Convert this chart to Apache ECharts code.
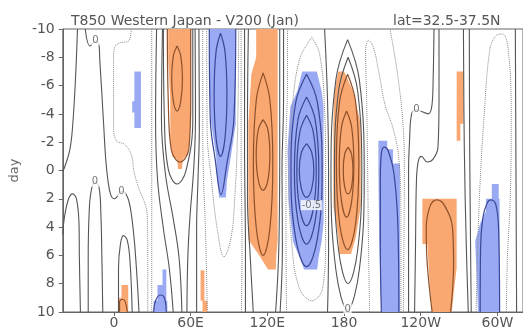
<!DOCTYPE html>
<html>
<head>
<meta charset="utf-8">
<script src="https://cdn.jsdelivr.net/npm/echarts@6/dist/echarts.min.js"></script>
<style>
html,body{margin:0;padding:0;background:#fff;}
#c{width:523px;height:330px;}
</style>
</head>
<body>
<div id="c"></div>
<script>
// ---------- axis ticks ----------
const xTickValues = [0, 60, 120, 180, 240, 300];
const xTickLabels = ['0', '60E', '120E', '180', '120W', '60W'];
const yTicks = [-10, -8, -6, -4, -2, 0, 2, 4, 6, 8, 10];

// ---------- significant areas [lon, day] ----------
const orangeArea1 = [[42.5,-10],[60.1,-10],[60.1,-5.7],[59.4,-2.2],[57.8,-1.2],[54,-0.8],[53.2,-0.1],[50.2,-0.1],[49.4,-0.8],[45.6,-1],[44.1,-1.9],[44.1,-5],[42.5,-7.8]];
const orangeArea2 = [[5.9,8.1],[11.2,8.1],[11.2,10],[3.6,10],[3.6,9],[5.9,9]];
const orangeArea3 = [[67.8,7.05],[70.8,7.05],[70.8,9.2],[73.1,9.2],[73.1,10],[69.3,10],[69.3,9.2],[67.8,9.2]];
const orangeArea4 = [[111.3,-10],[128.1,-10],[128.1,4.9],[127,6.1],[126.6,7],[120.5,7],[114.4,6.1],[105.2,4.9],[105.2,-3.3],[107.5,-6.8],[111.3,-8]];
const orangeArea5 = [[175.5,-7],[180.1,-7],[187,-5.6],[193.1,-3.3],[193.1,2.5],[189.3,4.7],[185.5,5.9],[176.3,5.9],[175.5,4.7],[171.7,2.5],[171.7,-3.3],[172.5,-5.6]];
const orangeArea6 = [[268.1,-7],[273.4,-7],[273.4,-3.3],[271,-3.3],[271,-2.1],[268.1,-2.1]];
const orangeArea7 = [[241.3,2],[268.1,2],[268.1,6.9],[266,8.5],[264.3,10],[249,10],[247,8],[245.2,5.2],[241.3,5.2]];
const blueArea1 = [[16,-7],[21.2,-7],[21.2,-3],[16,-3],[16,-4.1],[14.3,-4.1],[14.3,-4.9],[16,-4.9]];
const blueArea2 = [[38,7],[41,7],[41,9.2],[41.8,9.2],[41.8,10],[31.1,10],[31.1,9.2],[34.1,9.2],[34.1,8.1],[38,8.1]];
const blueArea3 = [[74.6,-10],[95.3,-10],[95.3,-6],[95.3,-3.3],[91.5,-1],[88.4,0.7],[87.6,1.9],[82.3,1.9],[80.8,0.7],[80,-1],[76.2,-3.3],[74.6,-6]];
const blueArea4 = [[147.3,-7],[158.7,-7],[162.5,-5.6],[164,-4.5],[164,3.7],[162.5,5],[160.2,6.1],[159,7],[148.8,7],[145,6.1],[140,5],[136.5,2],[135.8,-1.5],[138,-4.5],[143.4,-5.6]];
const blueArea5 = [[206.9,-2.1],[213.8,-2.1],[213.8,-1.5],[218.3,-1.5],[218.3,-0.5],[223.7,-0.5],[223.7,10],[209.2,10],[207.5,5],[206.9,0]];
const blueArea6 = [[295.6,0.95],[301,0.95],[301,2],[301.7,2],[301.7,10],[284.8,10],[282.6,5],[286.5,3.75],[291,2.9],[291,2],[295.6,2]];

// ---------- contour lines [lon, day] ----------
// zero / positive contours (solid)
const cA = [[-28.5,-10],[-30.1,-6.4],[-32.4,-3],[-34.6,-1.4],[-38.5,-0.25],[-40,0.05]];
const cArch1 = [[-40,4.5],[-38.5,3.2],[-35.4,2],[-32.4,1.65],[-29.3,2],[-27.3,3.75],[-27,6.2],[-26.2,10]];
const cArch2 = [[-20.1,10],[-20.1,6.2],[-19.4,3.05],[-17.8,1.45],[-14.8,0.8],[-11.7,1.15],[-10.2,3.05],[-9.4,6.2],[-8.7,10]];
const cZero1 = [[-22.4,-10],[-18.6,-8.8],[-14.4,-9.15],[-11.7,-8.9],[-11,-7.75],[-9.4,-5.4],[-7.9,-3.05],[-6.4,-0.8],[-4.8,0.6],[-2.5,1.7],[0.5,2],[3.6,1.7],[5.9,1.45],[9.7,1.7],[12.7,2.55],[15.8,4.8],[18.1,7.6],[19.6,10]];
const cArch3 = [[3.6,10],[3.6,6.9],[5.1,5.2],[7.4,4.6],[10.5,4.95],[12.7,6.55],[14.3,10]];
const cE = [[33.4,-10],[32.6,-3.6],[34.1,0.6],[38.7,4.1],[43.3,6.9],[46.4,10]];
const cF = [[38,-10],[37.2,-3.6],[40.3,0.25],[46.4,3.4],[51,6.2],[53.2,10]];
const cG = [[38.7,-10],[39.5,-3.6],[42.5,-0.1],[49.4,0.95],[56.3,0.04],[61.7,-3.6],[61.7,-10]];
const cH = [[63.5,-10],[63.8,-3.6],[62.4,-0.1],[59.4,3.4],[57.8,6.2],[57.1,10]];
const cI = [[66.5,-10],[66.8,-2.9],[65.8,0.6],[64.7,4.1],[64.7,10]];
const cM = [[102.2,-10],[102.2,-1.5],[102.9,5.5],[102.9,10]];
const cN = [[105.2,-10],[104.5,-3.6],[104.5,2],[106.7,6.2],[109,10]];
const cP = [[129.7,-10],[129.7,-1.5],[129,5.5],[126.5,10]];
const cQ = [[132.7,-10],[132.7,-5],[131.5,0],[131.8,5.5],[130,10]];
const cMid = [[164.8,-10],[167.1,-5],[167.9,0],[167.9,5.5],[167.1,10]];
const cO5a = [[182.8,-9.25],[192,-6.4],[195.8,0.3],[192,7],[182.8,9.85],[173.6,7],[169.8,0.3],[173.6,-6.4],[182.8,-9.25]];
const cO5b = [[183.2,-8],[190.7,-5.6],[193.9,0],[190.7,5.6],[183.2,8],[175.7,5.6],[172.5,0],[175.7,-5.6],[183.2,-8]];
const cZero2 = [[250.4,-10],[249.7,-6.4],[248.9,-4.7],[245.9,-4],[239.7,-4.2],[236.7,-4.3],[232.9,-4],[231.3,-2.2],[230.5,0],[230.5,5.5],[230.5,10]];
const cW2 = [[254.3,-10],[254.3,-5],[253.5,-1.65],[249.7,-0.8],[245.1,-0.6],[240.5,-1],[238.2,-0.7],[236.7,0.6],[235.9,5.5],[235.2,10]];
const cT1 = [[273.4,-10],[274.1,-1.5],[275.7,5.5],[277.2,10]];
const cT2 = [[278,-10],[278.3,-1.5],[279,5.5],[279.5,10]];
const cRight = [[314,-10],[314.5,0],[315,10]];
// negative contours (dotted)
const dC = [[13.5,-10],[12,-9.2],[4.3,-9],[0.5,-8.7],[-0.3,-7.75],[-0.3,-3.05],[2,-2.1],[8.2,-1.85],[13.5,-1.15],[15.8,0.1],[19.6,1.3],[25,2.55],[26.2,3.5],[26.5,6],[26.5,10]];
const dD = [[29.6,-10],[29.6,0],[29.6,10]];
const dJ = [[69.5,-10],[69.5,-2.9],[70.1,0.6],[71.6,4.1],[73.1,10]];
const dK = [[72.6,-10],[72.9,-2.9],[76.2,0.6],[80.8,4.1],[86.1,6.1],[91.5,4.8],[94.5,2],[96.8,-2.9],[97.6,-10]];
const dL = [[99.5,-10],[99.5,-1.5],[100.2,5.5],[99.7,10]];
const dR = [[135.8,-10],[135.8,-6.4],[134.6,-1.5],[134.6,4.1],[135,10]];
const dLoop4 = [[154.9,-9.4],[145,-7.8],[138.8,-3.6],[136.8,0],[138.8,4.8],[145,8.3],[155,9.2],[163.3,8.3],[165.6,4.8],[165.6,0],[164.8,-4.3],[161,-8.2],[154.9,-9.4]];
const dTongue6 = [[200,10],[199.2,5.5],[198.5,0],[197.7,-5],[196.9,-8.5],[199.2,-9.2],[203,-8.7],[206.9,-7.1],[212.2,-4.6],[218.3,-3],[222.9,-0.8],[224.5,3.4],[224.5,10]];
const dS = [[216,-10],[222.2,-6.6],[226.3,-3],[227.2,0.1],[226.8,5.5],[226.4,10]];
const dTongue8 = [[283.3,10],[284.8,4.8],[286.4,0.95],[289.4,-3.6],[294,-8.5],[298.6,-9.5],[303.9,-9.65],[308.5,-8.5],[310.8,-3.6],[310,2],[307.8,6.2],[307,10]];
// contours inside positive areas
const pIn1 = [[49.4,-8.8],[52.3,-8.1],[53.6,-6.5],[52.3,-4.9],[49.4,-4.2],[46.5,-4.9],[45.2,-6.5],[46.5,-8.1],[49.4,-8.8]];
const pEdge1 = [[41.8,-10],[42.5,-5],[44.8,-1.5],[51.7,-0.6],[58.6,-1.5],[60.1,-5],[60.1,-10]];
const pIn2 = [[4.4,10],[4.4,9.3],[6.7,9.1],[9,9.3],[10.5,10]];
const pIn3a = [[116.7,-6.9],[122,-5],[124.3,-0.5],[122,4.1],[116.7,6],[111.4,4.1],[109.1,-0.5],[111.4,-5],[116.7,-6.9]];
const pIn3b = [[116.7,-3.6],[120.4,-2.9],[122,-1.1],[120.4,0.7],[116.7,1.4],[113,0.7],[111.3,-1.1],[113,-2.9],[116.7,-3.6]];
const pIn5a = [[182.8,-6.8],[189,-4.9],[191.6,-0.6],[189,3.8],[182.8,5.6],[176.6,3.8],[174,-0.6],[176.6,-4.9],[182.8,-6.8]];
const pIn5b = [[182,-4.2],[186,-3.05],[187.7,-0.45],[186,2.15],[182,3.3],[178,2.15],[176.3,-0.45],[178,-3.05],[182,-4.2]];
const pIn5c = [[183.2,-1.65],[185.9,-1.15],[187,0],[185.9,1.15],[183.2,1.65],[180.5,1.15],[179.4,0],[180.5,-1.15],[183.2,-1.65]];
const pIn7 = [[248.9,10],[245.1,6.6],[244.3,4.1],[247.4,2.5],[252.7,2.07],[258.8,2.5],[264.9,4.1],[265.7,6.6],[263.4,10]];
// contours inside negative areas
const nIn2 = [[31.1,10],[32.6,9.2],[36.4,8.8],[39.5,9],[41,10]];
const nEdge3 = [[74.6,-10],[75.4,-3.6],[79.2,-0.8],[83.8,1.7],[88.4,-0.5],[93.8,-3.6],[95.3,-10]];
const nIn3 = [[83.4,-9.7],[86.9,-8.4],[88.4,-5.4],[86.9,-2.3],[83.4,-1],[79.9,-2.3],[78.4,-5.4],[79.9,-8.4],[83.4,-9.7]];
const nIn4a = [[150.7,-6.8],[159.2,-4.8],[162.9,0],[159.2,4.8],[150.7,6.8],[142.2,4.8],[138.5,0],[142.2,-4.8],[150.7,-6.8]];
const nIn4b = [[150.7,-5.2],[157.4,-3.6],[160.3,0],[157.4,3.6],[150.7,5.2],[144,3.6],[141.2,0],[144,-3.6],[150.7,-5.2]];
const nIn4c = [[150.7,-3.9],[156,-2.7],[158.3,0],[156,2.7],[150.7,3.9],[145.4,2.7],[143.1,0],[145.4,-2.7],[150.7,-3.9]];
const nIn4d = [[150.7,-1.9],[154.7,-1.3],[156.4,0],[154.7,1.3],[150.7,1.9],[146.7,1.3],[145,0],[146.7,-1.3],[150.7,-1.9]];
const nIn5 = [[209.2,10],[208.4,5.5],[208.4,0.6],[209.2,-1.2],[211.5,-1.65],[214.5,-1.4],[219.1,0.25],[222.2,4.1],[222.9,10]];
const nIn6 = [[286.5,10],[286.8,5.5],[288.5,3.4],[291.7,2.35],[294.8,2.07],[298.6,2.35],[300.9,4.1],[301.7,10]];

// contour labels
const labelPositions = [[-14.4,-9.2],[-14.8,0.8],[5.9,1.45],[236.7,-4.3],[182.8,9.8],[154.5,2.45]];
const labelTexts = ['0','0','0','0','0','-0.5'];

// ---------- build ----------
const ORANGE = '#F9A872';
const BLUE = '#99A9F3';
const areaList = [
  ...[orangeArea1, orangeArea2, orangeArea3, orangeArea4, orangeArea5, orangeArea6, orangeArea7].map(p => ({pts: p, fill: ORANGE})),
  ...[blueArea1, blueArea2, blueArea3, blueArea4, blueArea5, blueArea6].map(p => ({pts: p, fill: BLUE}))
];
const groups = [
  {lines: [cA,cArch1,cArch2,cZero1,cArch3,cE,cF,cG,cH,cI,cM,cN,cP,cQ,cMid,cO5a,cO5b,cZero2,cW2,cT1,cT2,cRight], color: '#555555', width: 1.1, type: 'solid'},
  {lines: [dC,dD,dJ,dK,dL,dR,dLoop4,dTongue6,dS,dTongue8], color: '#888888', width: 1, type: 'dotted'},
  {lines: [pIn1,pEdge1,pIn2,pIn3a,pIn3b,pIn5a,pIn5b,pIn5c,pIn7], color: '#8E5029', width: 1.2, type: 'solid'},
  {lines: [nIn2,nEdge3,nIn3,nIn4a,nIn4b,nIn4c,nIn4d,nIn5,nIn6], color: '#3A4796', width: 1.2, type: 'solid'}
];

const series = [];
series.push({
  type: 'custom',
  silent: true,
  clip: true,
  animation: false,
  z: 1,
  data: areaList.map(a => a.pts[0]),
  renderItem: function (params, api) {
    const a = areaList[params.dataIndex];
    return {
      type: 'polygon',
      shape: {points: a.pts.map(p => api.coord(p))},
      style: {fill: a.fill, stroke: null}
    };
  }
});
groups.forEach(g => {
  g.lines.forEach(l => {
    series.push({
      type: 'line',
      data: l,
      smooth: 0.4,
      symbol: 'none',
      silent: true,
      animation: false,
      clip: true,
      z: 3,
      lineStyle: {color: g.color, width: g.width, type: g.type}
    });
  });
});
series.push({
  type: 'scatter',
  symbolSize: 1,
  silent: true,
  animation: false,
  z: 5,
  itemStyle: {color: 'rgba(0,0,0,0)'},
  data: labelPositions.map((p, i) => ({value: p, name: labelTexts[i]})),
  label: {
    show: true, position: 'inside', formatter: '{b}',
    fontSize: 10, color: '#555', fontFamily: 'DejaVu Sans',
    backgroundColor: '#fff', padding: [0, 1]
  }
});

const chart = echarts.init(document.getElementById('c'), null, {renderer: 'canvas'});
chart.setOption({
  animation: false,
  backgroundColor: '#fff',
  title: [
    {text: 'T850 Western Japan - V200 (Jan)', left: 66, top: 9,
     textStyle: {fontSize: 14, fontWeight: 'normal', color: '#555', fontFamily: 'DejaVu Sans'}},
    {text: 'lat=32.5-37.5N', left: 388, top: 9,
     textStyle: {fontSize: 14, fontWeight: 'normal', color: '#555', fontFamily: 'DejaVu Sans'}}
  ],
  grid: {left: 55, top: 29, width: 471, height: 285, show: true, borderColor: '#666', borderWidth: 1, backgroundColor: 'transparent'},
  xAxis: {
    type: 'value', min: -40, max: 320,
    axisLine: {show: true, onZero: false, lineStyle: {color: '#666', width: 1}},
    axisTick: {show: true, customValues: xTickValues, length: 4, lineStyle: {color: '#666'}},
    axisLabel: {customValues: xTickValues, margin: 4, fontSize: 14, color: '#555', fontFamily: 'DejaVu Sans',
      formatter: v => xTickLabels[xTickValues.indexOf(v)]},
    splitLine: {show: false}
  },
  yAxis: {
    type: 'value', min: -10, max: 10, interval: 2, inverse: true,
    name: 'day', nameLocation: 'middle', nameGap: 38, nameRotate: 90,
    nameTextStyle: {fontSize: 13, color: '#666', fontFamily: 'DejaVu Sans'},
    axisLine: {show: true, onZero: false, lineStyle: {color: '#666', width: 1}},
    axisTick: {show: true, length: 4, lineStyle: {color: '#666'}},
    axisLabel: {margin: 8, fontSize: 14, color: '#555', fontFamily: 'DejaVu Sans',
      formatter: v => yTicks.indexOf(v) >= 0 ? String(v) : ''},
    splitLine: {show: false}
  },
  series: series
});
</script>
</body>
</html>
